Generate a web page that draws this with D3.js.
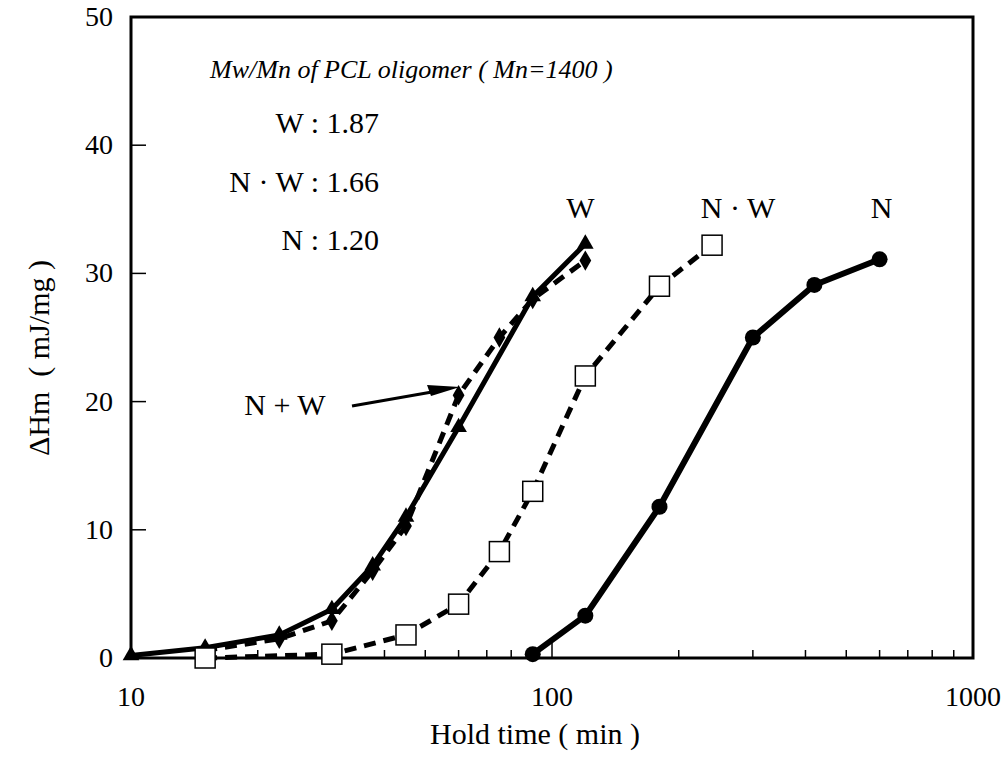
<!DOCTYPE html>
<html>
<head>
<meta charset="utf-8">
<script src="https://cdn.jsdelivr.net/npm/d3@7"></script>
<style>
  html, body { margin: 0; padding: 0; background: #fff; }
  svg { display: block; font-family: "Liberation Serif", "Times New Roman", serif; }
</style>
</head>
<body>
<svg id="chart" width="1008" height="759"></svg>
<script>
// Hold time (min) and melting enthalpy ΔHm (mJ/mg) per oligomer blend
const wTime   = [10, 15, 22.5, 30, 37.5, 45, 60, 90, 120];
const wHm     = [0.2, 0.8, 1.8, 3.8, 7.2, 11, 18, 28.2, 32.3];

const nwMixTime = [15, 22.5, 30, 37.5, 45, 60, 75, 90, 120];
const nwMixHm   = [0.6, 1.5, 2.9, 6.8, 10.3, 20.5, 25, 28, 31];

const nDotWTime = [15, 30, 45, 60, 75, 90, 120, 180, 240];
const nDotWHm   = [0, 0.3, 1.8, 4.2, 8.3, 13, 22, 29, 32.2];

const nTime = [90, 120, 180, 300, 420, 600];
const nHm   = [0.3, 3.3, 11.8, 25, 29.1, 31.1];

const xTickLabels = [10, 100, 1000];
const yTickValues = [0, 10, 20, 30, 40, 50];

const svg = d3.select("#chart");
const plotLeft = 131, plotRight = 973, plotTop = 17, plotBottom = 658;

const x = d3.scaleLog().domain([10, 1000]).range([plotLeft, plotRight]);
const y = d3.scaleLinear().domain([0, 50]).range([plotBottom, plotTop]);

// minor log ticks along the bottom edge, pointing inward
const minorTicks = [];
[10, 100].forEach(d => { for (let k = 2; k <= 9; k++) minorTicks.push(d * k); });
svg.append("g").selectAll("line").data(minorTicks).join("line")
  .attr("x1", d => x(d)).attr("x2", d => x(d))
  .attr("y1", plotBottom).attr("y2", plotBottom - 8)
  .attr("stroke", "#000").attr("stroke-width", 1.5);
svg.append("g").selectAll("line").data(xTickLabels).join("line")
  .attr("x1", d => x(d)).attr("x2", d => x(d))
  .attr("y1", plotBottom).attr("y2", plotBottom - 15)
  .attr("stroke", "#000").attr("stroke-width", 1.5);

// y ticks pointing inward
svg.append("g").selectAll("line").data(yTickValues).join("line")
  .attr("x1", plotLeft).attr("x2", plotLeft + 15)
  .attr("y1", d => y(d)).attr("y2", d => y(d))
  .attr("stroke", "#000").attr("stroke-width", 1.5);

// tick labels
svg.append("g").selectAll("text").data(xTickLabels).join("text")
  .attr("x", d => x(d)).attr("y", 706)
  .attr("text-anchor", "middle").attr("font-size", 28)
  .text(d => d);
svg.append("g").selectAll("text").data(yTickValues).join("text")
  .attr("x", 113).attr("y", d => y(d) + 9)
  .attr("text-anchor", "end").attr("font-size", 28)
  .text(d => d);

// frame
svg.append("rect")
  .attr("x", plotLeft).attr("y", plotTop)
  .attr("width", plotRight - plotLeft).attr("height", plotBottom - plotTop)
  .attr("fill", "none").attr("stroke", "#000").attr("stroke-width", 3);

// axis titles
svg.append("text").attr("x", 535).attr("y", 744)
  .attr("text-anchor", "middle").attr("font-size", 30)
  .attr("xml:space", "preserve")
  .text("Hold time ( min )");
svg.append("text")
  .attr("transform", "translate(49,358) rotate(-90)")
  .attr("text-anchor", "middle").attr("font-size", 30)
  .attr("xml:space", "preserve")
  .text("ΔHm  ( mJ/mg )");

const line = d3.line().x(d => x(d[0])).y(d => y(d[1]));
const zip = (a, b) => a.map((v, i) => [v, b[i]]);

const plot = svg.append("g");

// N·W : dashed line with open squares
plot.append("path").datum(zip(nDotWTime, nDotWHm))
  .attr("d", line).attr("fill", "none").attr("stroke", "#000")
  .attr("stroke-width", 5).attr("stroke-dasharray", "12,8");

// N+W : dashed line with diamonds
plot.append("path").datum(zip(nwMixTime, nwMixHm))
  .attr("d", line).attr("fill", "none").attr("stroke", "#000")
  .attr("stroke-width", 5).attr("stroke-dasharray", "12,8");

// W : solid line with triangles
plot.append("path").datum(zip(wTime, wHm))
  .attr("d", line).attr("fill", "none").attr("stroke", "#000")
  .attr("stroke-width", 5).attr("stroke-linejoin", "round");

// N : solid line with filled circles
plot.append("path").datum(zip(nTime, nHm))
  .attr("d", line).attr("fill", "none").attr("stroke", "#000")
  .attr("stroke-width", 6).attr("stroke-linejoin", "round");

const tri = d3.symbol().type(d3.symbolTriangle).size(120);
plot.append("g").selectAll("path").data(zip(wTime, wHm)).join("path")
  .attr("d", tri)
  .attr("transform", d => `translate(${x(d[0])},${y(d[1])})`)
  .attr("fill", "#000");

const dia = d3.symbol().type(d3.symbolDiamond).size(120);
plot.append("g").selectAll("path").data(zip(nwMixTime, nwMixHm)).join("path")
  .attr("d", dia)
  .attr("transform", d => `translate(${x(d[0])},${y(d[1])})`)
  .attr("fill", "#000");

plot.append("g").selectAll("rect").data(zip(nDotWTime, nDotWHm)).join("rect")
  .attr("x", d => x(d[0]) - 10).attr("y", d => y(d[1]) - 10)
  .attr("width", 20).attr("height", 20)
  .attr("fill", "#fff").attr("stroke", "#000").attr("stroke-width", 1.5);

plot.append("g").selectAll("circle").data(zip(nTime, nHm)).join("circle")
  .attr("cx", d => x(d[0])).attr("cy", d => y(d[1])).attr("r", 8)
  .attr("fill", "#000");

// series labels above each curve end
const seriesLabels = [
  { text: "W", at: 120, dx: -5 },
  { text: "N · W", at: 240, dx: 26 },
  { text: "N", at: 600, dx: 2 }
];
svg.append("g").selectAll("text").data(seriesLabels).join("text")
  .attr("x", d => x(d.at) + d.dx).attr("y", 218)
  .attr("text-anchor", "middle").attr("font-size", 30)
  .text(d => d.text);

// N+W callout with arrow
svg.append("text").attr("x", 285).attr("y", 415)
  .attr("text-anchor", "middle").attr("font-size", 30).text("N + W");
svg.append("line")
  .attr("x1", 352).attr("y1", 406).attr("x2", 432).attr("y2", 392)
  .attr("stroke", "#000").attr("stroke-width", 3);
svg.append("path")
  .attr("d", "M460,387 L427,385 L431,396 Z")
  .attr("fill", "#000");

// Mw/Mn annotation block
svg.append("text").attr("x", 210).attr("y", 78)
  .attr("font-size", 26).attr("font-style", "italic")
  .attr("font-family", "Liberation Serif")
  .text("Mw/Mn of PCL oligomer ( Mn=1400 )");
const mwmn = [
  { text: "W : 1.87", y: 133 },
  { text: "N · W : 1.66", y: 192 },
  { text: "N : 1.20", y: 250 }
];
svg.append("g").selectAll("text").data(mwmn).join("text")
  .attr("x", 379).attr("y", d => d.y)
  .attr("text-anchor", "end").attr("font-size", 30)
  .text(d => d.text);
</script>
</body>
</html>
